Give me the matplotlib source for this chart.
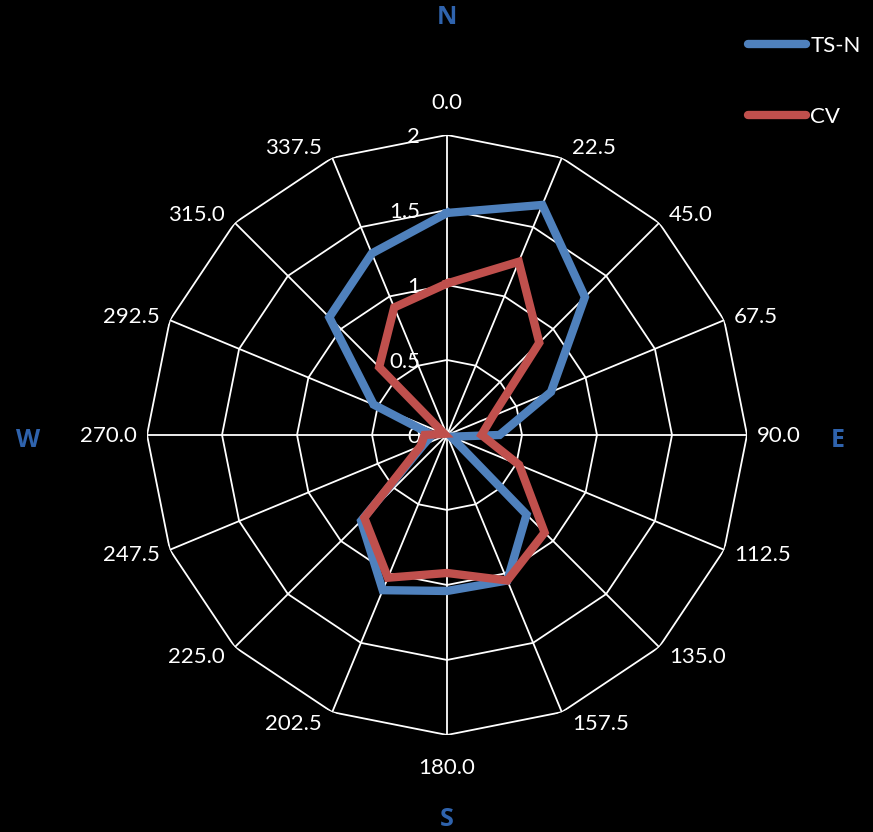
import numpy as np
import matplotlib
matplotlib.use('Agg')
import matplotlib.pyplot as plt

# wind direction sectors (degrees) and the two series
directions = [0.0, 22.5, 45.0, 67.5, 90.0, 112.5, 135.0, 157.5,
              180.0, 202.5, 225.0, 247.5, 270.0, 292.5, 315.0, 337.5]
ts_n = [1.48, 1.66, 1.30, 0.75, 0.35, 0.03, 0.75, 1.05,
        1.04, 1.12, 0.81, 0.17, 0.10, 0.53, 1.11, 1.31]
cv = [1.01, 1.25, 0.87, 0.33, 0.23, 0.52, 0.92, 1.05,
      0.92, 1.03, 0.78, 0.19, 0.15, 0.02, 0.64, 0.92]
r_ticks = [0, 0.5, 1, 1.5, 2]
compass = ['N', 'E', 'S', 'W']
compass_offsets = [(0, 417), (391, -6), (0, -385), (-419, -6)]

plt.rcParams['font.family'] = ['Lato', 'DejaVu Sans']

fig = plt.figure(figsize=(8.73, 8.32), dpi=100, facecolor='black')
ax = fig.add_axes([0.1684, 0.1166, 0.6873, 0.7212], projection='polar')
ax.set_facecolor('black')
ax.set_theta_zero_location('N')
ax.set_theta_direction(-1)
ax.set_ylim(0, 2)
ax.grid(False)
ax.spines['polar'].set_visible(False)
ax.set_xticks([])
ax.set_yticks([])

theta = np.deg2rad(directions)
theta_closed = np.append(theta, theta[0])

# polygon rings and spokes
for r in r_ticks[1:]:
    ax.plot(theta_closed, [r] * len(theta_closed), color='white', lw=1.3, zorder=1)
for t in theta:
    ax.plot([t, t], [0, 2], color='white', lw=1.3, zorder=1)

# radial tick labels left of the north spoke
for r in r_ticks:
    ax.annotate(str(r), xy=(0, r), xytext=(-27, -2), textcoords='offset pixels',
                ha='right', va='center', color='white', fontsize=16,
                annotation_clip=False)

# direction labels just outside the outer ring
for d, t in zip(directions, theta):
    s, c = np.sin(t), np.cos(t)
    if s > 0.1:
        ha, dx, dy = 'left', 10, 12 * c - 1
    elif s < -0.1:
        ha, dx, dy = 'right', -10, 12 * c - 1
    else:
        ha, dx, dy = 'center', 0, 32 if c > 0 else -33
    ax.annotate('%.1f' % d, xy=(t, 2), xytext=(dx, dy), textcoords='offset pixels',
                ha=ha, va='center', color='white', fontsize=16,
                annotation_clip=False)

for name, off in zip(compass, compass_offsets):
    ax.annotate(name, xy=(0, 0), xytext=off, textcoords='offset pixels',
                ha='center', va='center', color='#2F63AD', fontsize=18,
                fontweight='bold', family=['Open Sans', 'DejaVu Sans'],
                annotation_clip=False)

ax.plot(theta_closed, np.append(ts_n, ts_n[0]), color='#4F81BD', lw=6,
        solid_joinstyle='miter', label='TS-N', zorder=3)
ax.plot(theta_closed, np.append(cv, cv[0]), color='#C0504D', lw=6,
        solid_joinstyle='miter', label='CV', zorder=4)

leg = fig.legend(loc='upper left', bbox_to_anchor=(748 / 873, 1 - 36 / 832),
                 frameon=False, fontsize=16, labelcolor='white',
                 handlelength=2.6, handletextpad=0.2, labelspacing=2.3,
                 borderpad=0, borderaxespad=0)
for line in leg.get_lines():
    line.set_solid_capstyle('round')

fig.savefig('out.png', dpi=100, facecolor='black')
